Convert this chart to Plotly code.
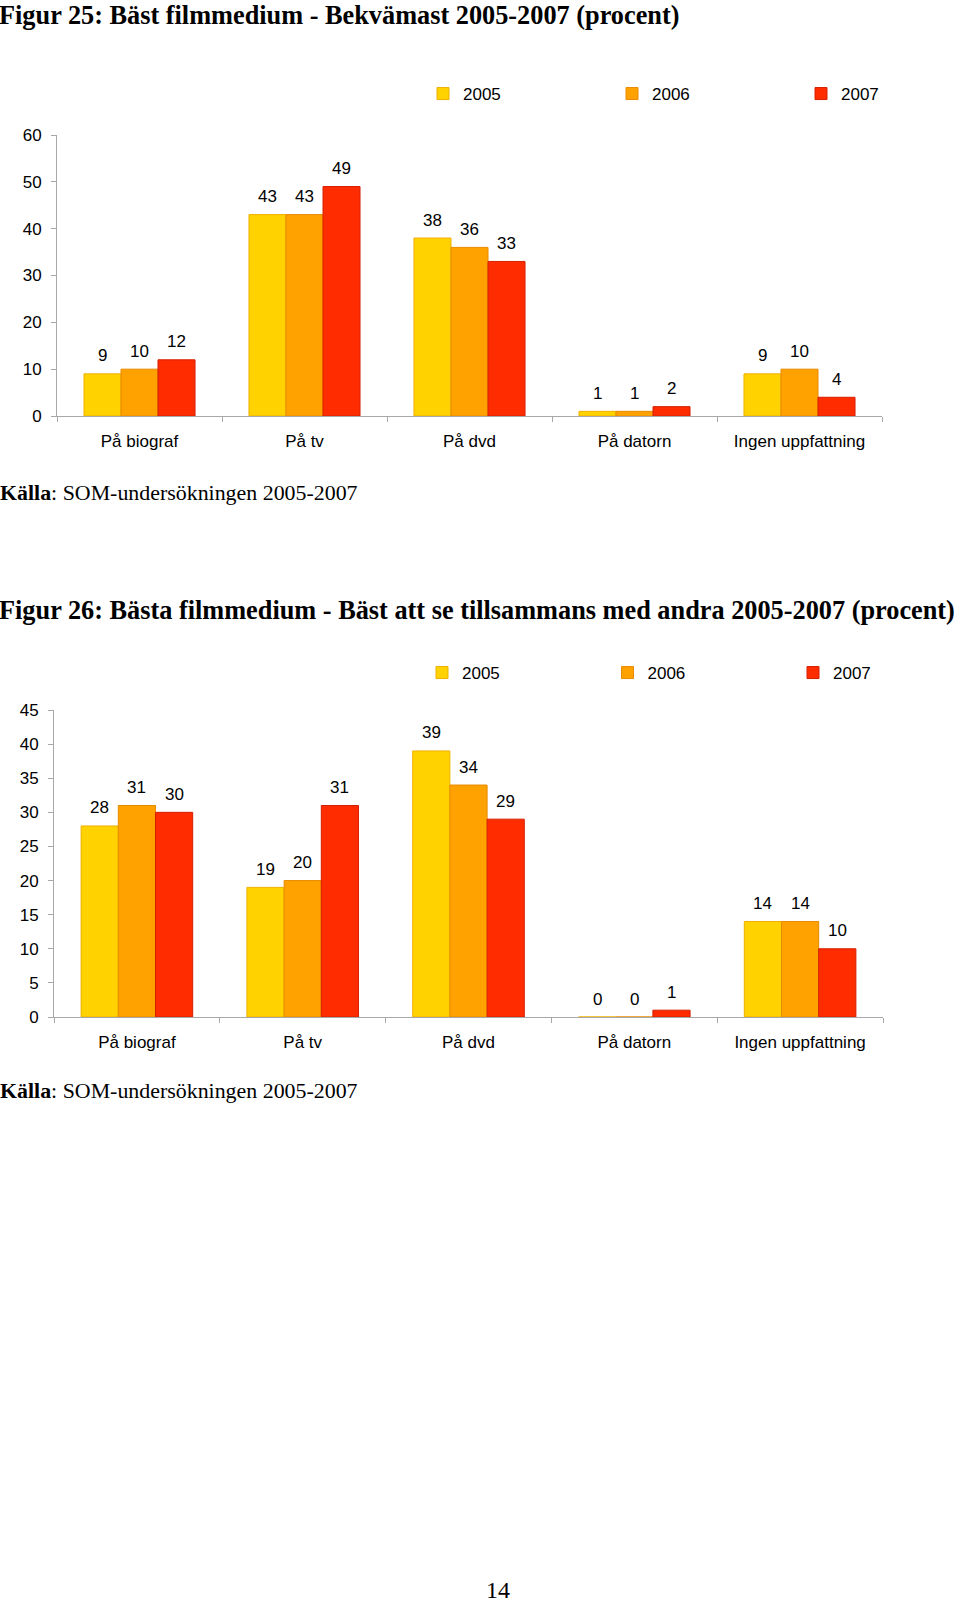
import plotly.graph_objects as go

# ---------------- data ----------------
categories = ["På biograf", "På tv", "På dvd", "På datorn", "Ingen uppfattning"]
years = ["2005", "2006", "2007"]

fig25_2005 = [9, 43, 38, 1, 9]
fig25_2006 = [10, 43, 36, 1, 10]
fig25_2007 = [12, 49, 33, 2, 4]

fig26_2005 = [28, 19, 39, 0, 14]
fig26_2006 = [31, 20, 34, 0, 14]
fig26_2007 = [30, 31, 29, 1, 10]

title25 = "Figur 25: Bäst filmmedium - Bekvämast 2005-2007 (procent)"
title26 = "Figur 26: Bästa filmmedium - Bäst att se tillsammans med andra 2005-2007 (procent)"
source = "<b>Källa</b>: SOM-undersökningen 2005-2007"
page_no = "14"

# ---------------- style ----------------
W, H = 960, 1604
fill_colors = ["#FFD200", "#FFA200", "#FF2C00"]
line_colors = ["#EFB000", "#E88A00", "#D42000"]
SANS = "Liberation Sans, Arial, sans-serif"
SERIF = "Liberation Serif, Times New Roman, serif"
AXIS_GRAY = "#A8A8A8"
BARGAP = 0.327


def py(px):
    """pixel from top -> paper y"""
    return 1 - px / H


fig = go.Figure()

charts = [
    dict(vals=[fig25_2005, fig25_2006, fig25_2007], xa="x", ya="y", legend="legend"),
    dict(vals=[fig26_2005, fig26_2006, fig26_2007], xa="x2", ya="y2", legend="legend2"),
]

nser = len(years)
bw = (1 - BARGAP) / nser
annotations = []
for ch in charts:
    for k, (yr, vals) in enumerate(zip(years, ch["vals"])):
        fig.add_trace(go.Bar(
            x=categories, y=vals, name=yr,
            xaxis=ch["xa"], yaxis=ch["ya"], legend=ch["legend"],
            marker=dict(color=fill_colors[k], line=dict(color=line_colors[k], width=1)),
            hoverinfo="x+y+name",
        ))
        off = (k - (nser - 1) / 2) * bw
        for i, v in enumerate(vals):
            annotations.append(dict(
                x=i + off, y=v, xref=ch["xa"], yref=ch["ya"],
                text=str(v), showarrow=False, yshift=18,
                xanchor="center", yanchor="middle",
                font=dict(family=SANS, size=17, color="black"),
            ))

# text annotations (titles, sources, page number)
for txt, ypx in [(title25, 15), (title26, 610)]:
    annotations.append(dict(text="<b>" + txt + "</b>", x=-2 / W, y=py(ypx), xref="paper", yref="paper",
                            xanchor="left", yanchor="middle", align="left", showarrow=False,
                            borderpad=0,
                            font=dict(family=SERIF, size=26.3, color="black")))
for ypx in (492, 1090):
    annotations.append(dict(text=source, x=-2 / W, y=py(ypx), xref="paper", yref="paper",
                            xanchor="left", yanchor="middle", align="left", showarrow=False,
                            font=dict(family=SERIF, size=21.9, color="black")))
annotations.append(dict(text=page_no, x=498 / W, y=0, xref="paper", yref="paper",
                        xanchor="center", yanchor="bottom", showarrow=False, borderpad=0,
                        font=dict(family=SERIF, size=24, color="black")))

xaxis_common = dict(
    type="category", showline=True, linecolor=AXIS_GRAY, linewidth=1,
    ticks="outside", tickson="boundaries", ticklen=5, tickcolor=AXIS_GRAY,
    showgrid=False, zeroline=False, ticklabelstandoff=10,
    tickfont=dict(family=SANS, size=17, color="black"),
)
yaxis_common = dict(
    showline=True, linecolor=AXIS_GRAY, linewidth=1,
    ticks="outside", ticklen=5, tickcolor=AXIS_GRAY,
    showgrid=False, zeroline=False, ticklabelstandoff=6,
    tickfont=dict(family=SANS, size=17, color="black"),
)

legend_common = dict(
    orientation="h", xanchor="left", yanchor="middle",
    font=dict(family=SANS, size=17, color="black"),
    bgcolor="rgba(0,0,0,0)", traceorder="normal",
    entrywidthmode="pixels",
)

fig.update_layout(
    width=W, height=H, autosize=False,
    margin=dict(l=0, r=0, t=0, b=0, autoexpand=False),
    paper_bgcolor="white", plot_bgcolor="white",
    barmode="group", bargap=BARGAP, bargroupgap=0,
    xaxis=dict(domain=[57 / W, 882 / W], anchor="y", **xaxis_common),
    yaxis=dict(domain=[py(416), py(135)], anchor="x", range=[0, 60], dtick=10, **yaxis_common),
    xaxis2=dict(domain=[54 / W, 883 / W], anchor="y2", **xaxis_common),
    yaxis2=dict(domain=[py(1017), py(710)], anchor="x2", range=[0, 45], dtick=5, **yaxis_common),
    legend=dict(x=423 / W, y=py(94), entrywidth=144, **legend_common),
    legend2=dict(x=422 / W, y=py(673), entrywidth=140.5, **legend_common),
    annotations=annotations,
    showlegend=True,
)

fig.write_html("out.html", config={"displayModeBar": False},
               post_script="document.body.style.margin='0';")
